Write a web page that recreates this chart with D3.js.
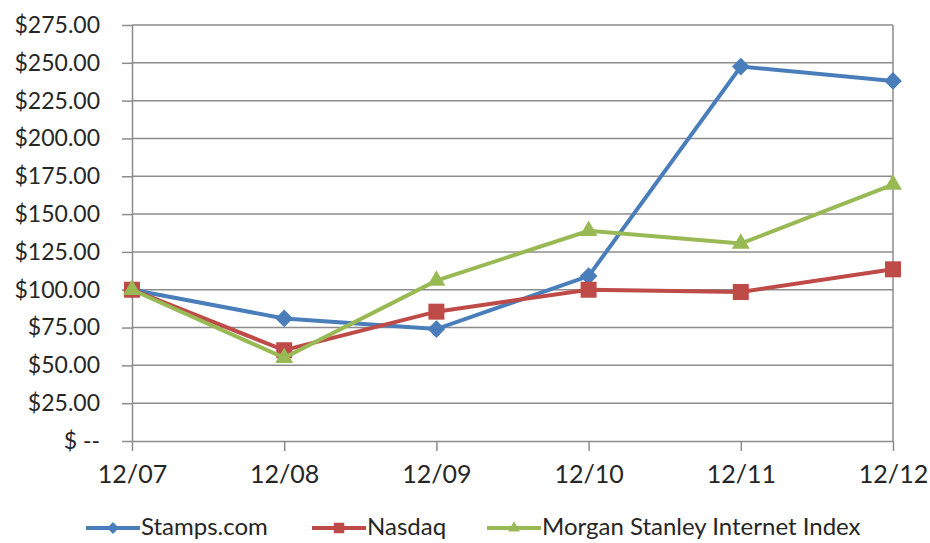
<!DOCTYPE html>
<html>
<head>
<meta charset="utf-8">
<script src="https://cdn.jsdelivr.net/npm/d3@7"></script>
<style>
  body { margin: 0; background: #fff; }
  text { font-family: Lato, "Liberation Sans", sans-serif; fill: #262626; }
</style>
</head>
<body>
<svg></svg>
<script>
let categories = ["12/07", "12/08", "12/09", "12/10", "12/11", "12/12"],
stamps = [100, 81, 74, 109, 247.5, 238],
nasdaq = [100, 60, 85.5, 100, 98.5, 113.5],
msii = [100, 55, 106, 139, 130.5, 169.5],
yTicks = [0, 25, 50, 75, 100, 125, 150, 175, 200, 225, 250, 275],
seriesNames = ["Stamps.com", "Nasdaq", "Morgan Stanley Internet Index"];

let width = 930,
height = 543,
plotLeft = 132,
plotRight = 893,
plotTop = 25,
plotBottom = 441,
gridColor = "#8c8c8c";

let svg = d3.select("svg")
  .attr("width", width)
  .attr("height", height);

let xScale = d3.scalePoint().domain(categories).range([plotLeft, plotRight]);
let yScale = d3.scaleLinear().domain([0, 275]).range([plotBottom, plotTop]);

// gridlines
svg.append("g")
  .selectAll("line")
  .data(yTicks.filter(d => d > 0))
  .enter()
  .append("line")
  .attr("x1", plotLeft)
  .attr("x2", plotRight)
  .attr("y1", d => yScale(d))
  .attr("y2", d => yScale(d))
  .style("stroke", gridColor)
  .style("stroke-width", 1.5);

// right edge line
svg.append("line")
  .attr("x1", plotRight).attr("x2", plotRight)
  .attr("y1", plotTop).attr("y2", plotBottom)
  .style("stroke", gridColor)
  .style("stroke-width", 1.5);

let fmt = d => d === 0 ? "$ --" : "$" + d3.format(".2f")(d);

let yAxis = d3.axisLeft(yScale).tickValues(yTicks).tickFormat(fmt)
  .tickSize(10).tickSizeOuter(0).tickPadding(22);
let gy = svg.append("g")
  .attr("transform", `translate(${plotLeft},0)`)
  .call(yAxis);
gy.selectAll("line, path").style("stroke", gridColor).style("stroke-width", 1.5);
gy.selectAll("text").style("font-size", "23px").style("fill", "#262626");

let xAxis = d3.axisBottom(xScale).tickSize(10).tickSizeOuter(0).tickPadding(14);
let gx = svg.append("g")
  .attr("transform", `translate(0,${plotBottom})`)
  .call(xAxis);
gx.selectAll("line, path").style("stroke", gridColor).style("stroke-width", 1.5);
gx.selectAll("text").style("font-size", "25px").style("fill", "#262626");

let series = [
  {name: seriesNames[0], values: stamps, color: "#4a7ebb", shape: d3.symbolDiamond2, size: 200, legendSize: 90},
  {name: seriesNames[1], values: nasdaq, color: "#be4b48", shape: d3.symbolSquare, size: 256, legendSize: 110},
  {name: seriesNames[2], values: msii, color: "#98b954", shape: d3.symbolTriangle2, size: 230, legendSize: 100}
];

let line = d3.line()
  .x((d, i) => xScale(categories[i]))
  .y(d => yScale(d));

series.forEach(s => {
  let g = svg.append("g");
  g.append("path")
    .attr("d", line(s.values))
    .style("fill", "none")
    .style("stroke", s.color)
    .style("stroke-width", 4);
  g.selectAll("path.m")
    .data(s.values)
    .enter()
    .append("path")
    .attr("class", "m")
    .attr("transform", (d, i) => `translate(${xScale(categories[i])},${yScale(d)})`)
    .attr("d", d3.symbol().type(s.shape).size(s.size))
    .style("fill", s.color);
});

// legend
let legendX = [86, 312, 487];
let legend = svg.append("g").attr("transform", "translate(0,528)");
series.forEach((s, i) => {
  let g = legend.append("g").attr("transform", `translate(${legendX[i]},0)`);
  g.append("line")
    .attr("x1", 0).attr("x2", 54)
    .style("stroke", s.color)
    .style("stroke-width", 4);
  g.append("path")
    .attr("transform", "translate(27,0)")
    .attr("d", d3.symbol().type(s.shape).size(s.legendSize))
    .style("fill", s.color);
  g.append("text")
    .attr("x", 55)
    .attr("y", 7)
    .style("font-size", "24px")
    .text(s.name);
});
</script>
</body>
</html>
